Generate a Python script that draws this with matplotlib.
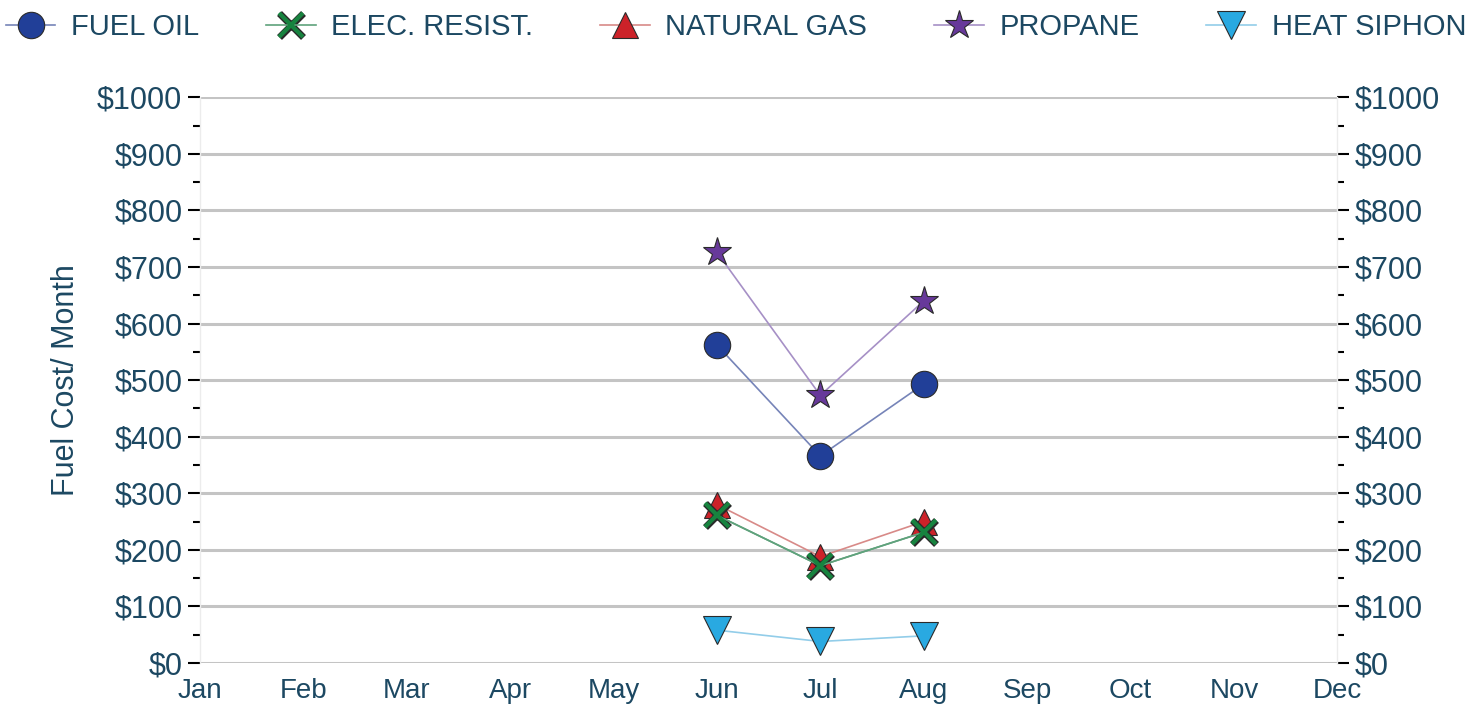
import matplotlib
matplotlib.use('Agg')
import matplotlib.pyplot as plt
from matplotlib.ticker import MultipleLocator, FuncFormatter
from matplotlib.legend_handler import HandlerTuple

months = ['Jan', 'Feb', 'Mar', 'Apr', 'May', 'Jun', 'Jul', 'Aug', 'Sep', 'Oct', 'Nov', 'Dec']
data_months = ['Jun', 'Jul', 'Aug']

fuel_oil = [562, 366, 493]
elec_resist = [261, 172, 231]
natural_gas = [280, 188, 250]
propane = [726, 473, 640]
heat_siphon = [58, 38, 48]

txt = '#1c4862'
edge = '#2a2a2a'
plt.rcParams['font.family'] = ['Liberation Sans', 'DejaVu Sans']

fig = plt.figure(figsize=(14.81, 7.05), dpi=100)
ax = fig.add_axes([0.135, 0.0596, 0.768, 0.8025])

x = [months.index(m) for m in data_months]


def line(vals, mk, ms, fc, lc, z):
    h, = ax.plot(x, vals, color=lc, lw=1.2, marker=mk, ms=ms,
                 markerfacecolor=fc, markeredgecolor=edge, markeredgewidth=0.8, zorder=z)
    return h


h_siphon = line(heat_siphon, 'v', 20, '#29a9e1', '#92cde9', 3)
h_gas = line(natural_gas, '^', 19, '#cc2229', '#d88a88', 4)
# electric resistance: green cross with a dark outline
ax.plot(x, elec_resist, color='#5fa27c', lw=1.2, zorder=5)
h_elec_out, = ax.plot(x, elec_resist, ls='none', marker='x', ms=17, mew=5, color=edge, zorder=5)
h_elec_in, = ax.plot(x, elec_resist, color='#5fa27c', lw=1.2, ls='-', marker='x', ms=17, mew=3,
                     markeredgecolor='#17833f', zorder=6)
h_oil = line(fuel_oil, 'o', 19, '#213f98', '#7684b8', 7)
h_propane = line(propane, '*', 21, '#67399a', '#a690c6', 8)

ax.set_xlim(0, 11)
ax.set_ylim(0, 1000)
ax.set_xticks(range(12))
ax.set_xticklabels(months)
ax.yaxis.set_major_locator(MultipleLocator(100))
ax.yaxis.set_minor_locator(MultipleLocator(50))
ax.yaxis.set_major_formatter(FuncFormatter(lambda v, p: '$%d' % v))
ax.tick_params(axis='x', length=0, labelsize=20, labelcolor=txt, pad=11)
ax.tick_params(axis='y', which='major', length=8.6, width=1.5, color='black',
               labelsize=22, labelcolor=txt, pad=4, right=True, labelright=True)
ax.tick_params(axis='y', which='minor', length=5, width=1.5, color='black', right=True)

ax.grid(axis='y', color='#c4c4c4', lw=2.2, zorder=0)
ax.set_axisbelow(True)
for s in ['top', 'bottom']:
    ax.spines[s].set_visible(False)
for s in ['left', 'right']:
    ax.spines[s].set_color('#ececec')
    ax.spines[s].set_linewidth(1)

ax.set_ylabel('Fuel Cost/ Month', fontsize=22, color=txt, labelpad=12)

fig.legend([h_oil, (h_elec_out, h_elec_in), h_gas, h_propane, h_siphon],
           ['FUEL OIL', 'ELEC. RESIST.', 'NATURAL GAS', 'PROPANE', 'HEAT SIPHON'],
           handler_map={tuple: HandlerTuple(ndivide=1)},
           loc='upper left', bbox_to_anchor=(0.0, 0.99), ncol=5, frameon=False,
           fontsize=21, labelcolor=txt, handlelength=1.7, handletextpad=0.53,
           columnspacing=2.3, borderaxespad=0.0, borderpad=0.2)

fig.savefig('out.png', dpi=100)
